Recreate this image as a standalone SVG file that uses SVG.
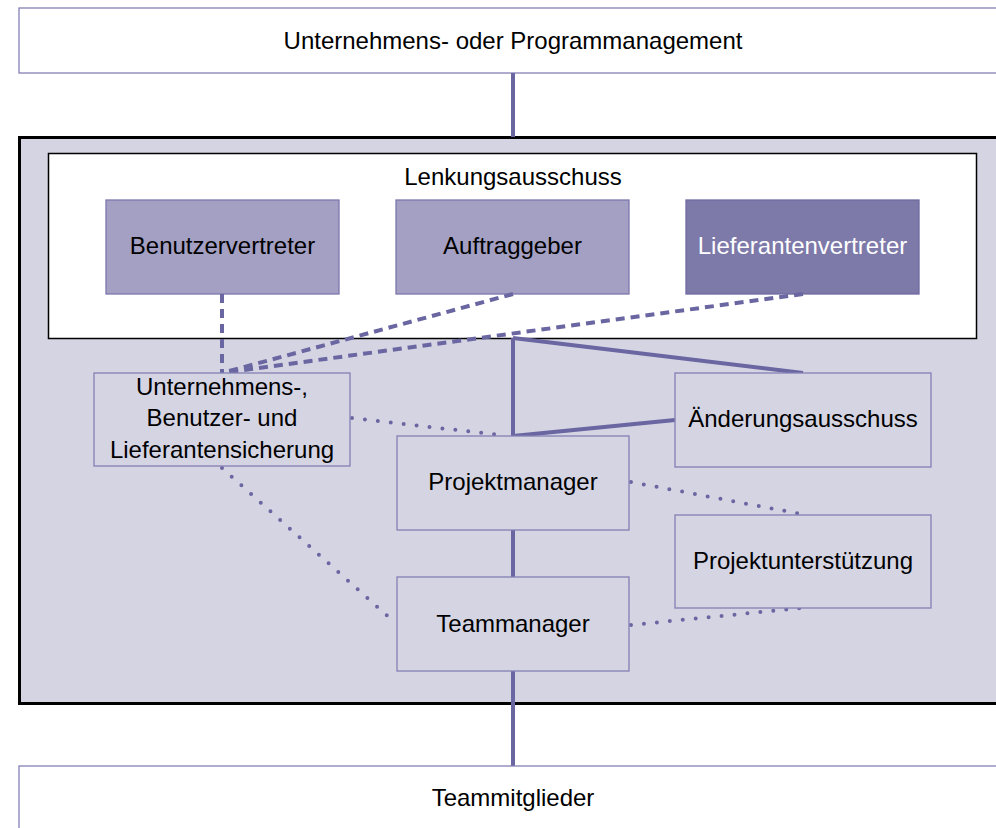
<svg xmlns="http://www.w3.org/2000/svg" width="996" height="828" viewBox="0 0 996 828">
<style>
text{font-family:"Liberation Sans",Arial,sans-serif;font-size:24px;fill:#000;text-anchor:middle;dominant-baseline:central}
.box{fill:#d5d4e3;stroke:#8480b5;stroke-width:1.3}
.wbox{fill:#fff;stroke:#8480b5;stroke-width:1.3}
.solid{fill:none;stroke:#6a66a1;stroke-width:4}
.dash{fill:none;stroke:#6a66a1;stroke-width:4;stroke-dasharray:9 6}
.dot{fill:none;stroke:#6a66a1;stroke-width:4;stroke-linecap:round;stroke-dasharray:0 13}
</style>
<rect x="0" y="0" width="996" height="828" fill="#fff"/>
<g id="programm"><rect class="wbox" x="19" y="8" width="990" height="65"/><text x="513" y="40">Unternehmens- oder Programmanagement</text></g>
<g id="projektrahmen"><rect x="19.5" y="137.5" width="990" height="566" fill="#d5d4e3" stroke="#000" stroke-width="3"/></g>
<g id="lenkungsausschuss"><rect x="48.5" y="153.5" width="928" height="185" fill="#fff" stroke="#000" stroke-width="1.5"/><text x="513" y="176">Lenkungsausschuss</text></g>
<g id="benutzervertreter"><rect x="106" y="200" width="233" height="94" fill="#a4a0c3" stroke="#7b77ad" stroke-width="1.3"/><text x="222.5" y="245">Benutzervertreter</text></g>
<g id="auftraggeber"><rect x="396" y="200" width="233" height="94" fill="#a4a0c3" stroke="#7b77ad" stroke-width="1.3"/><text x="512.5" y="245">Auftraggeber</text></g>
<g id="lieferantenvertreter"><rect x="686" y="200" width="233" height="94" fill="#7d79a8" stroke="#6f6ba0" stroke-width="1.3"/><text x="802.5" y="245" style="fill:#fff">Lieferantenvertreter</text></g>
<g id="connectors">
<line class="solid" x1="513" y1="73" x2="513" y2="137"/>
<line class="solid" x1="513" y1="338" x2="513" y2="436"/>
<line class="solid" x1="513" y1="338" x2="803" y2="373"/>
<line class="solid" x1="513" y1="436" x2="675" y2="420"/>
<line class="solid" x1="513" y1="530" x2="513" y2="577"/>
<line class="solid" x1="513" y1="671" x2="513" y2="766"/>
<line class="dash" x1="222" y1="294" x2="222" y2="373"/>
<line class="dash" x1="513" y1="294" x2="222" y2="373"/>
<line class="dash" x1="803" y1="294" x2="222" y2="373"/>
<line class="dot" x1="352" y1="418" x2="500" y2="435"/>
<line class="dot" x1="631" y1="482" x2="801" y2="514"/>
<line class="dot" x1="631" y1="625" x2="801" y2="608"/>
<line class="dot" x1="222" y1="468" x2="392" y2="620"/>
</g>
<g id="sicherung"><rect class="box" x="94" y="373" width="256" height="93"/><text x="222" y="386">Unternehmens-,</text><text x="222" y="417">Benutzer- und</text><text x="222" y="449">Lieferantensicherung</text></g>
<g id="projektmanager"><rect class="box" x="397" y="436" width="232" height="94"/><text x="513" y="481">Projektmanager</text></g>
<g id="teammanager"><rect class="box" x="397" y="577" width="232" height="94"/><text x="513" y="623">Teammanager</text></g>
<g id="aenderungsausschuss"><rect class="box" x="675" y="373" width="256" height="94"/><text x="803" y="418">Änderungsausschuss</text></g>
<g id="projektunterstuetzung"><rect class="box" x="675" y="515" width="256" height="93"/><text x="803" y="560">Projektunterstützung</text></g>
<g id="teammitglieder"><rect class="wbox" x="19" y="766" width="990" height="80"/><text x="513" y="797">Teammitglieder</text></g>
</svg>
